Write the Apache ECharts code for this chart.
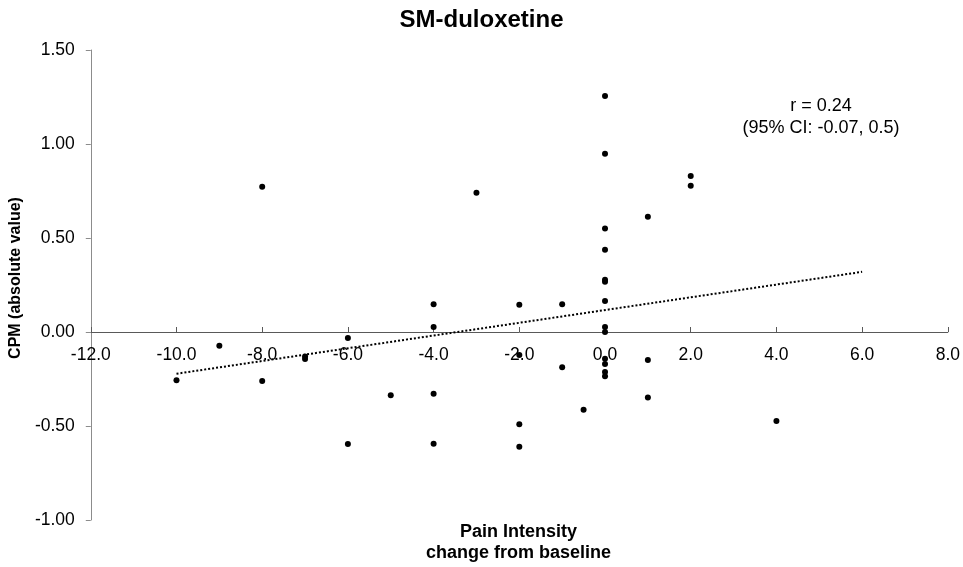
<!DOCTYPE html>
<html>
<head>
<meta charset="utf-8">
<title>SM-duloxetine</title>
<script src="https://cdn.jsdelivr.net/npm/echarts@6/dist/echarts.min.js"></script>
<style>
  html, body { margin: 0; padding: 0; background: #ffffff; }
  #chart { width: 963px; height: 567px; }
</style>
</head>
<body>
<div id="chart"></div>
<script>
// Pain intensity change from baseline (x) against CPM absolute value (y)
var painChange = [
  -10, -9, -8, -8, -7, -7, -6, -6, -5,
  -4, -4, -4, -4, -3,
  -2, -2, -2, -2, -1, -1, -0.5,
  0, 0, 0, 0, 0, 0, 0, 0, 0, 0, 0, 0, 0,
  1, 1, 1, 2, 2, 4
];
var cpmValue = [
  -0.257, -0.073, 0.773, -0.26, -0.13, -0.144, -0.032, -0.596, -0.337,
  0.147, 0.027, -0.328, -0.594, 0.741,
  0.145, -0.122, -0.491, -0.61, 0.147, -0.188, -0.413,
  1.255, 0.948, 0.551, 0.438, 0.278, 0.267, 0.165, 0.027, 0.0, -0.142, -0.17, -0.213, -0.236,
  0.613, -0.149, -0.348, 0.83, 0.778, -0.473
];

// Linear trend line end points
var trendX = [-10, 6];
var trendY = [-0.222, 0.32];

// Axis ranges: [min, max, interval]
var xRange = [-12, 8, 2];
var yRange = [-1, 1.5, 0.5];

var annotationLines = ['r = 0.24', '(95% CI: -0.07, 0.5)'];
var titleText = 'SM-duloxetine';
var yTitle = 'CPM (absolute value)';
var xTitleLines = ['Pain Intensity', 'change from baseline'];

var FONT = '"Liberation Sans", Arial, Helvetica, sans-serif';

var scatterData = painChange.map(function (x, i) { return [x, cpmValue[i]]; });
var trendData = trendX.map(function (x, i) { return [x, trendY[i]]; });

// Plot box
var GRID = { left: 88.5, right: 14.5, top: 50, bottom: 47 };
var plotHeight = 567 - GRID.top - GRID.bottom;
// Lift the horizontal axis (with its labels) from the bottom edge up to y = 0
var zeroLift = plotHeight * (0 - yRange[0]) / (yRange[1] - yRange[0]);

var chart = echarts.init(document.getElementById('chart'), null, { renderer: 'canvas' });

chart.setOption({
  backgroundColor: '#ffffff',
  animation: false,
  title: {
    text: titleText,
    left: 'center',
    top: 8,
    padding: 0,
    textStyle: { fontFamily: FONT, fontSize: 24, fontWeight: 'bold', color: '#000000' }
  },
  grid: { left: GRID.left, right: GRID.right, top: GRID.top, bottom: GRID.bottom, containLabel: false },
  xAxis: {
    type: 'value',
    position: 'bottom',
    offset: -zeroLift,
    min: xRange[0], max: xRange[1], interval: xRange[2],
    axisLine: { onZero: false, lineStyle: { color: '#595959', width: 1 } },
    axisTick: { show: true, inside: true, length: 5, lineStyle: { color: '#595959' } },
    axisLabel: {
      margin: 14,
      fontFamily: FONT, fontSize: 17.5, color: '#000000',
      formatter: function (v) { return v.toFixed(1); }
    },
    splitLine: { show: false }
  },
  yAxis: {
    type: 'value',
    min: yRange[0], max: yRange[1], interval: yRange[2],
    name: yTitle,
    nameLocation: 'middle',
    nameRotate: 90,
    nameGap: 55,
    nameTextStyle: {
      fontFamily: FONT, fontSize: 16, fontWeight: 'bold', color: '#000000',
      padding: [0, 0, 0, 14]
    },
    axisLine: { onZero: false, lineStyle: { color: '#8c8c8c', width: 1 } },
    axisTick: { show: true, inside: false, length: 5, lineStyle: { color: '#8c8c8c' } },
    axisLabel: {
      margin: 16,
      fontFamily: FONT, fontSize: 17.5, color: '#000000',
      formatter: function (v) { return v.toFixed(2); }
    },
    splitLine: { show: false }
  },
  graphic: [
    {
      type: 'text',
      style: {
        text: xTitleLines.join('\n'),
        x: 518.5, y: 542.5,
        align: 'center', verticalAlign: 'middle',
        lineHeight: 21,
        font: 'bold 18px ' + FONT,
        fill: '#000000'
      }
    },
    {
      type: 'text',
      style: {
        text: annotationLines.join('\n'),
        x: 821, y: 117,
        align: 'center', verticalAlign: 'middle',
        lineHeight: 21.5,
        font: '18px ' + FONT,
        fill: '#000000'
      }
    }
  ],
  series: [
    {
      type: 'line',
      data: trendData,
      showSymbol: false,
      symbol: 'none',
      lineStyle: { color: '#000000', width: 2, type: [2, 2] },
      silent: true,
      z: 2
    },
    {
      type: 'scatter',
      data: scatterData,
      symbol: 'circle',
      symbolSize: 6,
      itemStyle: { color: '#000000', opacity: 1 },
      z: 3
    }
  ]
});
</script>
</body>
</html>
